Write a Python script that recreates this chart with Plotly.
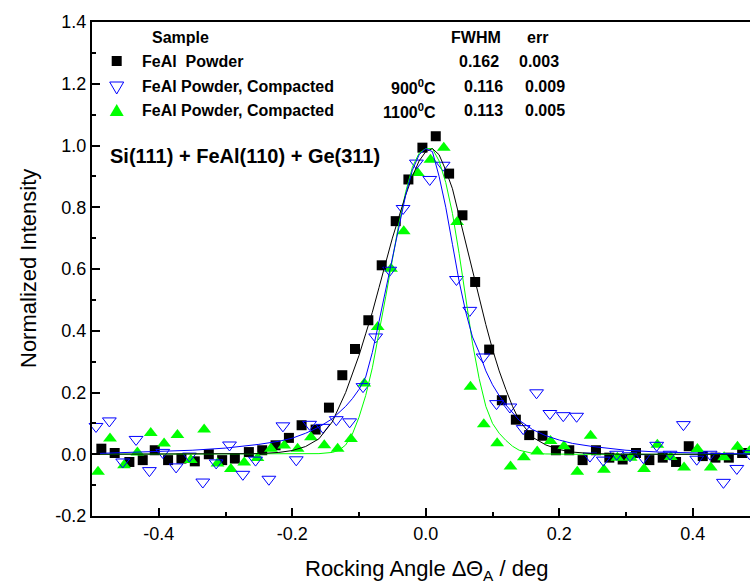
import plotly.graph_objects as go

# ---------------- data ----------------
# FeAl Powder (black squares)
BX = [-0.486, -0.466, -0.444, -0.424, -0.406, -0.386, -0.366, -0.346, -0.325, -0.305,
      -0.286, -0.265, -0.245, -0.225, -0.205, -0.186, -0.165, -0.145, -0.125, -0.106,
      -0.086, -0.066, -0.045, -0.026, -0.005, 0.015, 0.035, 0.055, 0.074, 0.095,
      0.114, 0.135, 0.155, 0.175, 0.195, 0.215, 0.235, 0.255, 0.275, 0.295,
      0.315, 0.335, 0.355, 0.375, 0.394, 0.415, 0.434, 0.454, 0.474]
BY = [0.018, 0.004, -0.025, -0.019, 0.013, -0.019, -0.014, -0.023, 0.0, -0.019,
      -0.014, 0.007, 0.013, 0.029, 0.053, 0.094, 0.080, 0.151, 0.256, 0.341,
      0.434, 0.612, 0.755, 0.890, 0.993, 1.030, 0.909, 0.774, 0.558, 0.339,
      0.175, 0.112, 0.062, 0.060, 0.013, 0.013, -0.019, 0.013, -0.011, -0.017,
      0.004, -0.019, -0.011, -0.025, 0.026, -0.006, -0.011, -0.011, 0.004]

# FeAl Powder, Compacted 900 C (blue open triangles)
UX = [-0.494, -0.474, -0.454, -0.434, -0.414, -0.394, -0.374, -0.354, -0.334, -0.314,
      -0.294, -0.274, -0.255, -0.235, -0.214, -0.194, -0.174, -0.154, -0.134, -0.114,
      -0.094, -0.075, -0.054, -0.034, -0.014, 0.006, 0.026, 0.046, 0.066, 0.086,
      0.106, 0.126, 0.146, 0.166, 0.186, 0.206, 0.226, 0.246, 0.266, 0.286,
      0.306, 0.326, 0.346, 0.366, 0.386, 0.406, 0.426, 0.446, 0.466, 0.485]
UY = [0.090, 0.108, -0.025, 0.048, -0.053, 0.006, -0.041, -0.006, -0.090, -0.028,
      0.030, -0.065, -0.019, -0.081, 0.092, -0.018, 0.097, 0.087, 0.112, 0.105,
      0.219, 0.380, 0.596, 0.796, 0.943, 0.890, 0.936, 0.566, 0.466, 0.315,
      0.164, 0.153, 0.083, 0.199, 0.132, 0.125, 0.123, -0.006, -0.019, 0.0,
      -0.005, -0.011, 0.029, 0.0, 0.096, -0.016, 0.0, -0.091, -0.046, 0.002]

# FeAl Powder, Compacted 1100 C (green filled triangles)
GX = [-0.491, -0.473, -0.452, -0.432, -0.412, -0.392, -0.372, -0.352, -0.332, -0.312,
      -0.292, -0.272, -0.252, -0.232, -0.212, -0.192, -0.172, -0.152, -0.132, -0.112,
      -0.092, -0.072, -0.052, -0.033, -0.012, 0.007, 0.027, 0.047, 0.067, 0.087,
      0.107, 0.127, 0.147, 0.167, 0.187, 0.207, 0.227, 0.247, 0.267, 0.287,
      0.307, 0.327, 0.347, 0.367, 0.387, 0.407, 0.427, 0.447, 0.467, 0.485]
GY = [-0.057, 0.051, -0.036, 0.006, 0.069, 0.035, 0.062, -0.019, 0.080, -0.030,
      -0.048, -0.027, -0.012, 0.018, 0.028, 0.018, 0.055, 0.029, 0.018, 0.049,
      0.229, 0.412, 0.601, 0.722, 0.911, 0.954, 0.993, 0.752, 0.219, 0.097,
      0.036, -0.040, -0.010, 0.009, 0.043, 0.026, -0.057, 0.060, -0.050, -0.011,
      -0.011, -0.048, 0.031, -0.009, -0.043, 0.017, -0.043, -0.010, 0.024, 0.010]

# fitted curves
CX = [-0.50, -0.45, -0.40, -0.35, -0.30, -0.25, -0.22, -0.20, -0.18, -0.16,
      -0.14, -0.13, -0.12, -0.11, -0.10, -0.09, -0.08, -0.07, -0.06, -0.05,
      -0.04, -0.03, -0.02, -0.01, 0.00, 0.01, 0.02, 0.03, 0.04, 0.05,
      0.06, 0.07, 0.08, 0.09, 0.10, 0.11, 0.12, 0.13, 0.14, 0.16,
      0.18, 0.20, 0.22, 0.25, 0.30, 0.35, 0.40, 0.45, 0.50]
FIT_BLACK = [0, 0, 0, 0, 0, 0.002, 0.006, 0.012, 0.025, 0.05,
             0.105, 0.15, 0.2, 0.26, 0.32, 0.39, 0.46, 0.54, 0.62, 0.70,
             0.77, 0.84, 0.90, 0.95, 0.98, 0.99, 0.97, 0.92, 0.86, 0.77,
             0.69, 0.60, 0.51, 0.42, 0.34, 0.27, 0.21, 0.155, 0.11, 0.055,
             0.03, 0.015, 0.007, 0.002, 0, 0, 0, 0, 0]
FIT_BLUE = [0.002, 0.005, 0.008, 0.013, 0.02, 0.032, 0.042, 0.052, 0.068, 0.088,
            0.115, 0.135, 0.155, 0.18, 0.21, 0.25, 0.33, 0.43, 0.53, 0.63,
            0.74, 0.84, 0.92, 0.97, 0.99, 0.98, 0.90, 0.80, 0.68, 0.56,
            0.46, 0.38, 0.33, 0.27, 0.225, 0.19, 0.16, 0.135, 0.11, 0.08,
            0.06, 0.046, 0.035, 0.025, 0.013, 0.007, 0.004, 0.002, 0.001]
FIT_GREEN = [0, 0, 0, 0, 0, 0, 0, 0, 0.001, 0.002,
             0.006, 0.013, 0.03, 0.065, 0.12, 0.19, 0.28, 0.39, 0.51, 0.63,
             0.75, 0.85, 0.93, 0.975, 0.99, 0.99, 0.95, 0.88, 0.78, 0.65,
             0.50, 0.36, 0.245, 0.155, 0.10, 0.068, 0.045, 0.026, 0.013, 0.003,
             0.001, 0, 0, 0, 0, 0, 0, 0, 0]

XT = [-0.4, -0.2, 0.0, 0.2, 0.4]
XTL = ["-0.4", "-0.2", "0.0", "0.2", "0.4"]
YT = [-0.2, 0.0, 0.2, 0.4, 0.6, 0.8, 1.0, 1.2, 1.4]
YTL = ["-0.2", "0.0", "0.2", "0.4", "0.6", "0.8", "1.0", "1.2", "1.4"]

SAMPLES = ["FeAl\u00a0 Powder", "FeAl Powder, Compacted", "FeAl Powder, Compacted"]
TEMPS = ["", "900<sup>0</sup>C", "1100<sup>0</sup>C"]
FWHM = ["0.162", "0.116", "0.113"]
ERR = ["0.003", "0.009", "0.005"]

BLUE = "#0000FF"
GREEN = "#00FF00"
FONT = "Liberation Sans, Arial, Helvetica, sans-serif"

# ---------------- figure ----------------
W, H = 750, 587
L, R, T, B = 92, 0, 22, 71
PW, PH = W - L - R, H - T - B


def px(x):
    return (x - L) / PW


def py(y):
    return (H - B - y) / PH


fig = go.Figure()
fig.add_trace(go.Scatter(x=BX, y=BY, mode="markers", cliponaxis=False,
                         marker=dict(symbol="square", size=10, color="black")))
fig.add_trace(go.Scatter(x=GX, y=GY, mode="markers", cliponaxis=False,
                         marker=dict(symbol="triangle-up", size=12, color=GREEN)))
fig.add_trace(go.Scatter(x=UX, y=UY, mode="markers", cliponaxis=False,
                         marker=dict(symbol="triangle-down-open", size=12, color=BLUE,
                                     line=dict(width=1, color=BLUE))))
fig.add_trace(go.Scatter(x=CX, y=FIT_GREEN, mode="lines", line=dict(color=GREEN, width=1)))
fig.add_trace(go.Scatter(x=CX, y=FIT_BLACK, mode="lines", line=dict(color="black", width=1)))
fig.add_trace(go.Scatter(x=CX, y=FIT_BLUE, mode="lines", line=dict(color=BLUE, width=1)))

fig.update_layout(
    width=W, height=H, margin=dict(l=L, r=R, t=T, b=B),
    plot_bgcolor="white", paper_bgcolor="white", showlegend=False,
    font=dict(family=FONT, color="black"),
)
fig.update_xaxes(range=[-0.5, -0.5 + PW / 667.5], showline=True, linecolor="black", linewidth=2,
                 mirror=True, ticks="inside", ticklen=8, tickwidth=1.5, tickcolor="black",
                 tickvals=XT, ticktext=XTL, tickfont=dict(size=18, family=FONT),
                 minor=dict(ticks="inside", ticklen=4, tickwidth=1.5, tickcolor="black",
                            tickvals=[-0.5, -0.3, -0.1, 0.1, 0.3, 0.5]),
                 showgrid=False, zeroline=False)
fig.update_yaxes(range=[-0.2, 1.4], showline=True, linecolor="black", linewidth=2,
                 ticks="inside", ticklen=8, tickwidth=1.5, tickcolor="black",
                 tickvals=YT, ticktext=YTL, tickfont=dict(size=18, family=FONT),
                 minor=dict(ticks="inside", ticklen=4, tickwidth=1.5, tickcolor="black",
                            tickvals=[-0.1, 0.1, 0.3, 0.5, 0.7, 0.9, 1.1, 1.3]),
                 showgrid=False, zeroline=False)

ann = []
ann.append(dict(text="Rocking Angle \u0394\u0398<sub>A</sub> / deg", x=px(426), y=py(570),
                font=dict(size=22)))
ann.append(dict(text="Normalized Intensity", x=px(28), y=py(269), textangle=-90,
                font=dict(size=22)))
ann.append(dict(text="<b>Si(111) + FeAl(110) + Ge(311)</b>", x=px(108), y=py(156),
                xanchor="left", font=dict(size=20)))
ann.append(dict(text="<b>Sample</b>", x=px(150), y=py(38), xanchor="left", font=dict(size=16)))
ann.append(dict(text="<b>FWHM</b>", x=px(449), y=py(38), xanchor="left", font=dict(size=16)))
ann.append(dict(text="<b>err</b>", x=px(525), y=py(38), xanchor="left", font=dict(size=16)))
rows_y = [61, 87, 110.5]
for i in range(3):
    yy = py(rows_y[i])
    ann.append(dict(text="<b>" + SAMPLES[i] + "</b>", x=px(140), y=yy, xanchor="left",
                    font=dict(size=16)))
    if TEMPS[i]:
        ann.append(dict(text="<b>" + TEMPS[i] + "</b>", x=px(438), y=yy, xanchor="right",
                        font=dict(size=16)))
    ann.append(dict(text="<b>" + FWHM[i] + "</b>", x=px(462 if i else 457), y=yy,
                    xanchor="left", font=dict(size=16)))
    ann.append(dict(text="<b>" + ERR[i] + "</b>", x=px(523 if i else 517), y=yy,
                    xanchor="left", font=dict(size=16)))
for a in ann:
    a.update(xref="paper", yref="paper", showarrow=False, yanchor="middle")
    a.setdefault("xanchor", "center")
fig.update_layout(annotations=ann)

# legend symbols
shapes = [
    dict(type="rect", xsizemode="pixel", ysizemode="pixel", xanchor=px(116.7), yanchor=py(61),
         x0=-5, x1=5, y0=-5, y1=5, fillcolor="black", line=dict(width=0)),
    dict(type="path", xsizemode="pixel", ysizemode="pixel", xanchor=px(116.7), yanchor=py(88),
         path="M -7,6 L 7,6 L 0,-6 Z", fillcolor="rgba(0,0,0,0)", line=dict(color=BLUE, width=1)),
    dict(type="path", xsizemode="pixel", ysizemode="pixel", xanchor=px(116.7), yanchor=py(110),
         path="M -7,-6 L 7,-6 L 0,6 Z", fillcolor=GREEN, line=dict(width=0)),
]
for s in shapes:
    s.update(xref="paper", yref="paper")
fig.update_layout(shapes=shapes)

fig.write_html("out.html")
